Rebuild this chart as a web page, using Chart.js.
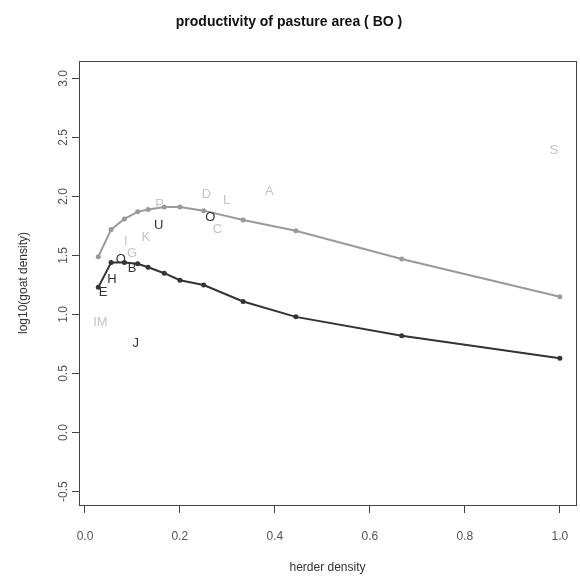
<!DOCTYPE html>
<html>
<head>
<meta charset="utf-8">
<script src="https://cdn.jsdelivr.net/npm/chart.js@4/dist/chart.umd.min.js"></script>
<style>
html,body{margin:0;padding:0;background:#fff;}
#wrap{width:580px;height:580px;}
</style>
</head>
<body>
<div id="wrap"><canvas id="c" width="580" height="580"></canvas></div>
<script>
// ---- data ----
const herderDensity = [0.028, 0.055, 0.083, 0.111, 0.133, 0.167, 0.2, 0.25, 0.333, 0.444, 0.667, 1.0];
const upperSeries = [1.49, 1.72, 1.81, 1.87, 1.89, 1.91, 1.91, 1.88, 1.80, 1.71, 1.47, 1.15];
const lowerSeries = [1.23, 1.44, 1.44, 1.43, 1.40, 1.35, 1.29, 1.25, 1.11, 0.98, 0.82, 0.63];

const grayLetters = ['D', 'L', 'A', 'S', 'C', 'K', 'I', 'G', 'P', 'I', 'M'];
const grayLetterX = [0.256, 0.298, 0.388, 0.988, 0.279, 0.128, 0.086, 0.099, 0.157, 0.021, 0.036];
const grayLetterY = [2.02, 1.97, 2.04, 2.39, 1.72, 1.657, 1.62, 1.52, 1.93, 0.936, 0.936];

const blackLetters = ['U', 'O', 'O', 'B', 'H', 'E', 'J'];
const blackLetterX = [0.155, 0.264, 0.0755, 0.099, 0.057, 0.038, 0.107];
const blackLetterY = [1.754, 1.82, 1.47, 1.394, 1.30, 1.19, 0.758];

const xTicks = [0, 0.2, 0.4, 0.6, 0.8, 1.0];
const yTicks = [-0.5, 0, 0.5, 1.0, 1.5, 2.0, 2.5, 3.0];

const titleText = 'productivity of pasture area ( BO )';
const xTitle = 'herder density';
const yTitle = 'log10(goat density)';

// ---- build ----
const FONT = "'Liberation Sans', Arial, sans-serif";
const toPts = (xs, ys) => xs.map((x, i) => ({x: x, y: ys[i]}));

const letterPlugin = {
  id: 'letters',
  afterDatasetsDraw(chart) {
    const {ctx, scales: {x, y}} = chart;
    ctx.save();
    ctx.font = '13px ' + FONT;
    ctx.textAlign = 'center';
    ctx.textBaseline = 'middle';
    ctx.fillStyle = '#c4c4c4';
    grayLetters.forEach((t, i) => ctx.fillText(t, x.getPixelForValue(grayLetterX[i]), y.getPixelForValue(grayLetterY[i])));
    ctx.fillStyle = '#333333';
    blackLetters.forEach((t, i) => ctx.fillText(t, x.getPixelForValue(blackLetterX[i]), y.getPixelForValue(blackLetterY[i])));
    ctx.restore();
  }
};
const framePlugin = {
  id: 'frame',
  afterDraw(chart) {
    const a = chart.chartArea, ctx = chart.ctx;
    ctx.save();
    ctx.strokeStyle = '#444';
    ctx.lineWidth = 1;
    ctx.strokeRect(Math.round(a.left) + 0.5, Math.round(a.top) + 0.5, Math.round(a.right - a.left), Math.round(a.bottom - a.top));
    ctx.restore();
  }
};

new Chart(document.getElementById('c'), {
  type: 'scatter',
  data: {
    datasets: [
      {
        data: toPts(herderDensity, upperSeries),
        showLine: true, borderColor: '#9a9a9a', backgroundColor: '#9a9a9a',
        borderWidth: 2, pointRadius: 2.5, pointBorderWidth: 0
      },
      {
        data: toPts(herderDensity, lowerSeries),
        showLine: true, borderColor: '#333333', backgroundColor: '#333333',
        borderWidth: 2, pointRadius: 2.5, pointBorderWidth: 0
      }
    ]
  },
  options: {
    responsive: false,
    animation: false,
    devicePixelRatio: 1,
    layout: {padding: {left: 0, right: 2, top: 0, bottom: 0}},
    plugins: {
      legend: {display: false},
      tooltip: {enabled: false},
      title: {
        display: true, text: titleText, color: '#111',
        font: {family: FONT, size: 14, weight: 'bold'},
        padding: {top: 14, bottom: 30.2}
      }
    },
    scales: {
      x: {
        type: 'linear', min: -0.0126, max: 1.034,
        afterBuildTicks: s => { s.ticks = xTicks.map(v => ({value: v})); },
        afterFit: s => { s.height = 75; s.paddingLeft = 0; s.paddingRight = 0; },
        grid: {display: true, drawOnChartArea: false, drawTicks: true, tickLength: 8, color: '#444'},
        border: {display: false},
        ticks: {color: '#555', font: {family: FONT, size: 12}, padding: 16,
          callback: v => v.toFixed(1), maxRotation: 0, minRotation: 0},
        title: {display: true, text: xTitle, color: '#333', font: {family: FONT, size: 12}, padding: {top: 0, bottom: 5}}
      },
      y: {
        type: 'linear', min: -0.614, max: 3.148,
        afterBuildTicks: s => { s.ticks = yTicks.map(v => ({value: v})); },
        afterFit: s => { s.width = 79; s.paddingTop = 0; s.paddingBottom = 0; },
        grid: {display: true, drawOnChartArea: false, drawTicks: true, tickLength: 7, color: '#444'},
        border: {display: false},
        ticks: {color: '#555', font: {family: FONT, size: 12}, padding: -2, crossAlign: 'center',
          minRotation: 90, maxRotation: 90, callback: v => v.toFixed(1)},
        title: {display: true, text: yTitle, color: '#333', font: {family: FONT, size: 12}, padding: {top: 16, bottom: 0}}
      }
    }
  },
  plugins: [letterPlugin, framePlugin]
});
</script>
</body>
</html>
